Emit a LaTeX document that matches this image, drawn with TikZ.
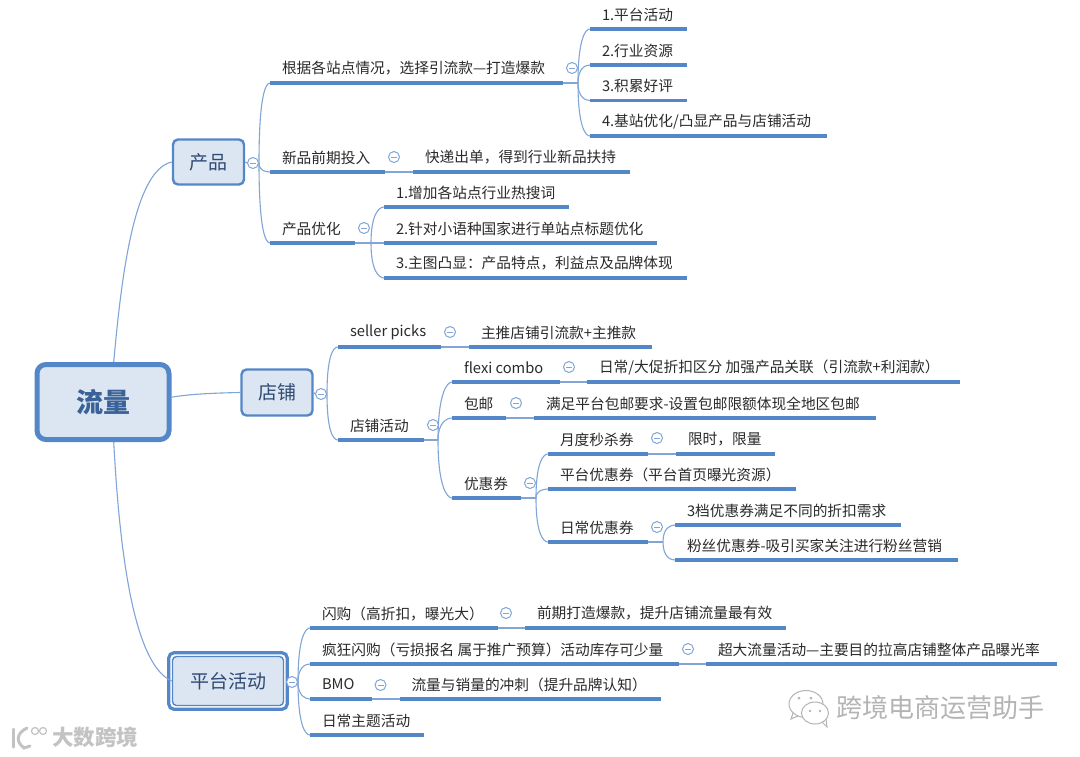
\documentclass[tikz,border=0pt]{standalone}
\usepackage{fontspec}
\setmainfont{Noto Sans CJK SC}
\usetikzlibrary{calc}
\definecolor{mapblue}{HTML}{5487C8}
\definecolor{thinblue}{HTML}{80A5D6}
\definecolor{boxfill}{HTML}{DCE6F2}
\definecolor{boxink}{HTML}{2F4A73}
\definecolor{rootink}{HTML}{3A6298}
\definecolor{ink}{HTML}{2A2A2A}
\definecolor{markgray}{HTML}{B4B4B4}
\tikzset{
  topicnode/.style={anchor=south west,inner sep=0pt,outer sep=0pt,minimum height=29pt,text=ink,font=\fontsize{14.7pt}{16pt}\selectfont},
  uline/.style={draw=mapblue,line width=3.4pt},
  thinlink/.style={draw=thinblue,line width=1.1pt},
  mainbox/.style={draw=mapblue,fill=boxfill,line width=2.4pt,rounded corners=5pt,inner sep=0pt,text=boxink,font=\fontsize{19pt}{21pt}\selectfont},
  rootbox/.style={draw=mapblue,fill=boxfill,line width=5pt,rounded corners=9pt,inner sep=0pt,text=rootink,font=\fontsize{27pt}{30pt}\selectfont\bfseries},
  platbox/.style={mainbox,line width=1.4pt,rounded corners=4pt},
  collapsemark/.style={circle,draw=thinblue,fill=white,line width=1pt,minimum size=11pt,inner sep=0pt},
  minusbar/.style={draw=thinblue,line width=0.9pt},
}
\newcommand\topic[5]{%
  \pgfmathsetlengthmacro\topicw{#3-#2}%
  \node[topicnode] (#1) at (#2,#4) {\makebox[\topicw][l]{\hspace{12pt}#5\hss}};
  \draw[uline] (#1.south west) -- (#1.south east);
}
\newcommand\collapse[3]{%
  \node[collapsemark] (#1) at (#2,#3) {};
  \draw[minusbar] ($(#1.center)+(-3,0)$) -- ($(#1.center)+(3,0)$);
}
\newcommand\fan[2]{%
  \draw[thinlink] (#1) .. controls ($(#1)!.8!(#1 |- #2.south west)$) and ($(#2.south west)+(-5,0)$) .. (#2.south west);
}
\newcommand\link[2]{\draw[thinlink] (#1.south east) -- (#2.south west);}
\begin{document}
\begin{tikzpicture}[x=1pt,y=-1pt]
\useasboundingbox[fill=white] (0,0) rectangle (1080,756);

% main boxes
\node[rootbox,minimum width=132pt,minimum height=75pt] (root) at (103,402) {流量};
\node[mainbox,minimum width=71pt,minimum height=45pt] (prod) at (208.5,162) {产品};
\node[mainbox,minimum width=71pt,minimum height=46pt] (shop) at (277,392.5) {店铺};
\node[platbox,minimum width=111pt,minimum height=49pt] (plat) at (228,681) {平台活动};
\draw[draw=mapblue,line width=3.2pt,rounded corners=5pt] ($(plat.south west)+(-3,3)$) rectangle ($(plat.north east)+(3,-3)$);

% root connectors
\draw[thinlink] (root.75) .. controls (122,270) and (135,170) .. (prod.west);
\draw[thinlink] (root.4) .. controls (190,394) and (215,393) .. (shop.west);
\draw[thinlink] (root.-75) .. controls (120,560) and (135,665) .. (plat.west);

% 产品
\collapse{cprod}{253}{163}
\coordinate (jprod) at (259,163);
\draw[thinlink] (prod.east) -- (cprod.west);
\draw[thinlink] (cprod.east) -- (jprod);
\topic{t1}{270}{563}{83}{根据各站点情况，选择引流款—打造爆款}
\topic{t2}{270}{385}{172}{新品前期投入}
\topic{t3}{270}{355}{243}{产品优化}
\fan{jprod}{t1}\fan{jprod}{t2}\fan{jprod}{t3}

\collapse{ct1}{572}{68}
\coordinate (jt1) at (578,83);
\draw[thinlink] (t1.south east) -- (jt1);
\topic{t1a}{590}{687}{29}{1.平台活动}
\topic{t1b}{590}{687}{65}{2.行业资源}
\topic{t1c}{590}{687}{100.5}{3.积累好评}
\topic{t1d}{590}{827}{136}{4.基站优化/凸显产品与店铺活动}
\fan{jt1}{t1a}\fan{jt1}{t1b}\fan{jt1}{t1c}\fan{jt1}{t1d}

\collapse{ct2}{394}{157}
\topic{t2a}{413}{630}{172}{快递出单，得到行业新品扶持}
\link{t2}{t2a}

\collapse{ct3}{364}{228}
\coordinate (jt3) at (371,243);
\draw[thinlink] (t3.south east) -- (jt3);
\topic{t3a}{384}{569}{207}{1.增加各站点行业热搜词}
\topic{t3b}{384}{657}{243}{2.针对小语种国家进行单站点标题优化}
\topic{t3c}{384}{687}{278}{3.主图凸显：产品特点，利益点及品牌体现}
\fan{jt3}{t3a}\fan{jt3}{t3b}\fan{jt3}{t3c}

% 店铺
\collapse{cshop}{321}{394}
\coordinate (jshop) at (327,394);
\draw[thinlink] (shop.east) -- (cshop.west);
\draw[thinlink] (cshop.east) -- (jshop);
\topic{s1}{338}{441}{347}{seller picks}
\topic{s2}{338}{424}{440}{店铺活动}
\fan{jshop}{s1}\fan{jshop}{s2}

\collapse{cs1}{450}{332}
\topic{s1a}{469}{652}{347}{主推店铺引流款+主推款}
\link{s1}{s1a}

\collapse{cs2}{433}{425}
\coordinate (js2) at (438,440);
\draw[thinlink] (s2.south east) -- (js2);
\topic{f1}{452}{559.5}{382}{flexi combo}
\topic{f2}{452}{506}{418}{包邮}
\topic{f3}{452}{521}{498}{优惠券}
\fan{js2}{f1}\fan{js2}{f2}\fan{js2}{f3}

\collapse{cf1}{569}{367}
\topic{f1a}{587}{960}{382}{日常/大促折扣区分 加强产品关联（引流款+利润款）}
\link{f1}{f1a}

\collapse{cf2}{516}{403}
\topic{f2a}{534}{876}{418}{满足平台包邮要求-设置包邮限额体现全地区包邮}
\link{f2}{f2a}

\collapse{cf3}{530}{483}
\coordinate (jf3) at (536,498);
\draw[thinlink] (f3.south east) -- (jf3);
\topic{v1}{548}{648}{454}{月度秒杀券}
\topic{v2}{548}{796}{489}{平台优惠券（平台首页曝光资源）}
\topic{v3}{548}{648}{542}{日常优惠券}
\fan{jf3}{v1}\fan{jf3}{v2}\fan{jf3}{v3}

\collapse{cv1}{657}{438}
\topic{v1a}{676}{775}{454}{限时，限量}
\link{v1}{v1a}

\collapse{cv3}{657}{527}
\coordinate (jv3) at (663,542);
\draw[thinlink] (v3.south east) -- (jv3);
\topic{v3a}{675}{901}{525}{3档优惠券满足不同的折扣需求}
\topic{v3b}{675}{958}{560}{粉丝优惠券-吸引买家关注进行粉丝营销}
\fan{jv3}{v3a}\fan{jv3}{v3b}

% 平台活动
\collapse{cplat}{292}{682}
\coordinate (jplat) at (298,682);
\draw[thinlink] (cplat.east) -- (jplat);
\topic{p1}{310}{498}{628}{闪购（高折扣，曝光大）}
\topic{p2}{310}{679}{664}{疯狂闪购（亏损报名 属于推广预算）活动库存可少量}
\topic{p3}{310}{372}{699}{BMO}
\topic{p4}{310}{424}{735}{日常主题活动}
\fan{jplat}{p1}\fan{jplat}{p2}\fan{jplat}{p3}\fan{jplat}{p4}

\collapse{cp1}{506}{613}
\topic{p1a}{525}{786}{628}{前期打造爆款，提升店铺流量最有效}
\link{p1}{p1a}

\collapse{cp2}{688}{649}
\topic{p2a}{706}{1057}{664}{超大流量活动—主要目的拉高店铺整体产品曝光率}
\link{p2}{p2a}

\collapse{cp3}{380.5}{685}
\topic{p3a}{399.5}{660.5}{699}{流量与销量的冲刺（提升品牌认知）}
\link{p3}{p3a}

% watermark, bottom right
\draw[markgray,line width=1pt,fill=white] (806,704) ellipse (17pt and 13.5pt);
\draw[markgray,line width=1pt] (793,713) -- (791,719) -- (798,716);
\draw[markgray,line width=1pt,fill=white] (815,713) ellipse (13.5pt and 11pt);
\draw[markgray,line width=1pt] (822,722) -- (827,727) -- (826,719);
\fill[markgray] (799,698) circle (1.5pt) (811,698) circle (1.5pt) (810,711) circle (1.3pt) (820,711) circle (1.3pt);
\node[text=markgray,inner sep=0pt,anchor=west,font=\fontsize{26pt}{28pt}\selectfont] (markb) at (836,708) {跨境电商运营助手};

% watermark, bottom left
\draw[markgray!80,line width=3pt,line cap=round] (13,729) -- (13,747);
\draw[markgray!80,line width=3pt,line cap=round] (27,728) .. controls (17,733) and (15,741) .. (24,748) -- (30,746);
\draw[markgray!80,line width=1.2pt] (35,731) circle (3.5pt) (43,731) circle (3.5pt);
\node[text=markgray!80,inner sep=0pt,anchor=west,font=\fontsize{21.5pt}{24pt}\selectfont\bfseries] (marka) at (52,737) {大数跨境};
\end{tikzpicture}
\end{document}
